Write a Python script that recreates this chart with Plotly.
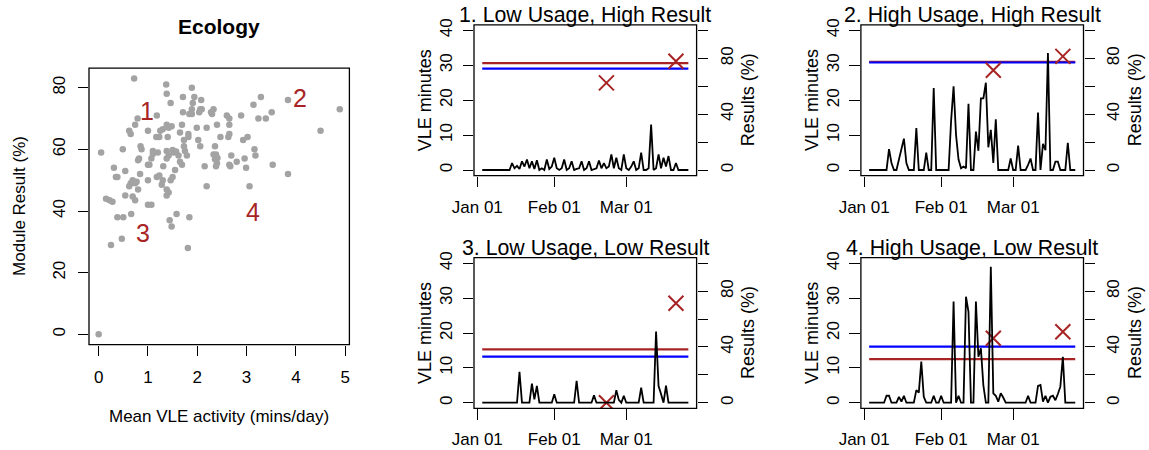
import plotly.graph_objects as go
import pandas as pd

# ---------------- data ----------------
scatter_x = [0, 0.05, 0.72, 0.15, 0.22, 0.28, 0.25, 0.31, 0.35, 0.38, 0.38, 0.49, 0.47, 0.5, 0.54, 0.54,
             0.62, 0.65, 0.66, 0.62, 0.65, 0.69, 0.74, 0.77, 0.69, 0.74, 0.74, 0.79, 0.8, 0.82, 0.84, 0.8,
             0.85, 0.87, 1.0, 1.0, 1.0, 1.0, 1.07, 1.03, 1.07, 1.1, 1.1, 1.18, 1.17, 1.23, 1.25, 1.18,
             1.23, 1.2, 1.3, 1.3, 1.28, 1.31, 1.37, 1.38, 1.38, 1.42, 1.4, 1.38, 1.42, 1.38, 1.38, 1.42,
             1.38, 1.44, 1.46, 1.48, 1.46, 1.5, 1.48, 1.5, 1.52, 1.57, 1.55, 1.58, 1.62, 1.65, 1.65, 1.69,
             1.69, 1.71, 1.71, 1.73, 1.73, 1.75, 1.79, 1.82, 1.82, 1.84, 1.84, 1.81, 1.89, 1.89, 1.89, 1.91,
             1.94, 1.99, 2.02, 2.04, 2.06, 2.08, 2.09, 2.06, 2.15, 2.19, 2.19, 2.28, 2.33, 2.3, 2.36, 2.33,
             2.38, 2.41, 2.36, 2.4, 2.38, 2.4, 2.47, 2.6, 2.65, 2.65, 2.65, 2.63, 2.65, 2.67, 2.69, 2.8,
             2.89, 2.93, 2.96, 2.99, 3.02, 3.06, 3.14, 3.16, 3.18, 3.24, 3.29, 3.39, 3.51, 3.53, 3.84, 3.84,
             4.5, 4.89]
scatter_y = [0, 59, 83, 44, 43.5, 43, 29, 54, 51, 51, 38, 60, 31, 38, 53, 45,
             66, 65, 39, 48, 49, 50, 49, 49.5, 44.7, 43.5, 68, 70, 56.5, 57, 52, 47,
             61, 60, 66, 55, 50, 42, 42, 55, 57, 58.5, 59.5, 71, 64, 64, 66, 51,
             51.5, 59, 66.5, 50, 48.5, 54.5, 81, 78, 68, 67, 64, 59.5, 58, 57, 47, 46,
             45, 37, 75, 67.5, 50, 51, 35, 59.8, 59, 59.3, 53.3, 39, 58, 56, 65.5, 68,
             55, 77, 72, 63, 61, 59.5, 58, 64, 65, 71.5, 38, 28, 80, 71.5, 73, 75,
             77, 67, 63, 72, 73, 76, 73, 61, 54.5, 48, 67, 72, 73, 71.5, 61, 58.3,
             58.3, 57.2, 56.8, 55.5, 54.5, 68, 64, 71, 70, 68, 65, 64, 55, 54.5, 58, 56,
             71, 63, 57, 54, 64, 48, 74.5, 60, 58, 70, 77, 70, 72, 55, 76, 52,
             66, 73]
quadrant_labels = ["1", "2", "3", "4"]
quadrant_label_x = [0.98, 4.09, 0.89, 3.14]
quadrant_label_y = [72.3, 76.7, 32.8, 39.6]

series_start = "2016-01-03"   # daily series, Jan 03 .. Mar 26
vle_p1 = [0, 0, 0, 0, 0, 0, 0, 0, 0, 0, 0, 0,
          2, 0.5, 1.2, 0.3, 2.5, 1, 3, 0.5, 2.5, 0.3, 2.8, 0, 0.5, 0, 3, 0.3, 1, 3.5, 0.5, 0, 0.5, 3,
          0, 0.5, 2.5, 0, 0.3, 0.5, 2.5, 0, 0.5, 2.5, 0, 0.3, 0.5, 2.7, 0.5, 2, 0.5, 1, 4.5, 0.5, 3.5,
          0.5, 0, 4.5, 0.5, 0, 1, 2.5, 0, 0.5, 5, 0, 0, 0.5, 13, 0, 0.5, 4.5, 0.5, 3.5, 1, 4, 0, 0, 2, 0,
          0, 0, 0, 0]
vle_p2 = [0, 0, 0, 0, 0, 0, 0, 0,
          6, 2, 0, 0, 3, 6, 9, 2, 0, 0, 0, 12, 0, 0, 0, 5, 0, 0, 23.5, 0, 0, 0, 0, 0, 0,
          14, 24, 10, 3, 0.5, 1, 0.5, 19, 0, 0, 11, 5.5, 20.5, 20.5, 25, 6.5, 11.5, 2, 14.5, 0,
          0, 0, 0, 0, 3.3, 0, 0, 7, 0, 0, 0, 1.5, 3.3, 0, 0, 16.5, 0, 7.5, 5.7, 33.5, 0, 0, 2.4, 2.4,
          0, 0, 0, 7.8, 0, 0, 0]
vle_p3 = [0, 0, 0, 0, 0, 0, 0, 0, 0, 0, 0, 0, 0, 0, 0,
          8.9, 0, 0, 0, 0, 5.5, 1, 4.8, 0, 0, 0, 0, 0, 0, 2.4, 0, 0, 0, 0, 0, 0, 0, 0, 6.3, 0,
          0, 0, 0, 0, 0, 2.1, 0, 0, 0, 0, 0, 0, 0, 0, 3.6, 0.8, 0, 2, 0, 0, 0, 0, 0, 0, 4.3, 0,
          0, 0, 0, 0, 20.4, 4.8, 2.5, 0, 4.9, 0, 0, 0, 0, 0, 0, 0, 0, 0]
vle_p4 = [0, 0, 0, 0, 0, 0, 0,
          2, 2, 0, 0, 0, 1.7, 0.3, 2, 0, 0, 0, 0, 3.6, 2.9, 11.8, 1.7, 0, 0, 0, 2, 0, 0, 2, 0,
          0, 0, 0, 29, 0, 2, 0, 0, 30.4, 26.1, 0, 0, 29, 13.2, 15.6, 5, 0, 0, 39, 2.7, 2, 0.3,
          2.7, 1.5, 0, 0, 0, 0, 0, 0, 0, 0, 0, 2, 0, 0, 0, 4.8, 5.1, 0.3, 2, 0, 1.7, 2, 0.7, 2.5,
          4.6, 13.2, 0, 0, 0, 0, 0]

panel_titles = ["1. Low Usage, High Result", "2. High Usage, High Result",
                "3. Low Usage, Low Result", "4. High Usage, Low Result"]
result_red = [76.6, 77.5, 38.3, 31.3]     # results (%)
result_blue = [72.6, 77.0, 33.0, 40.2]    # results (%)
mark_dates = ["2016-02-22", "2016-03-21"]
mark_p1 = [62.4, 77.9]
mark_p2 = [71.4, 81.4]
mark_p3 = [0.0, 71.3]
mark_p4 = [46.2, 50.9]

date_tick_vals = ["2016-01-01", "2016-02-01", "2016-03-01"]
date_tick_text = ["Jan 01", "Feb 01", "Mar 01"]
vle_ticks = [0, 10, 20, 30, 40]
res_ticks = [0, 20, 40, 60, 80, 100]
res_tick_text = ["0", "", "40", "", "80", ""]
sc_xticks = [0, 1, 2, 3, 4, 5]
sc_yticks = [0, 20, 40, 60, 80]

# ---------------- layout helpers ----------------
W, H = 1149, 450
FONT = "Liberation Sans, Arial, sans-serif"
RED = "#A82424"
BLUE = "#0000FF"


def fx(p):
    return p / W


def fy(p):
    return 1 - p / H


def r_range(lo, hi):
    d = hi - lo
    return [lo - 0.04 * d, hi + 0.04 * d]


dates = pd.date_range(series_start, periods=len(vle_p1), freq="D")
d0, d1 = dates[0], dates[-1]
span = d1 - d0
date_range = [str(d0 - 0.04 * span), str(d1 + 0.04 * span)]

fig = go.Figure()

# ---- scatter panel ----
SC = dict(l=89.0, r=349.4, t=68.2, b=344.6)
fig.add_trace(go.Scatter(x=scatter_x, y=scatter_y, mode="markers", xaxis="x", yaxis="y",
                         marker=dict(size=6.5, color="#A3A3A3"), showlegend=False, hoverinfo="skip"))

axis_common = dict(showgrid=False, zeroline=False, showline=False, ticks="outside", ticklen=10.5,
                   tickwidth=1.2, tickcolor="black", automargin=False,
                   tickfont=dict(family=FONT, size=17, color="black"))

layout = dict(
    width=W, height=H, margin=dict(l=0, r=0, t=0, b=0, autoexpand=False), paper_bgcolor="white",
    plot_bgcolor="white", showlegend=False, font=dict(family=FONT, color="black"),
    xaxis=dict(domain=[fx(SC["l"]), fx(SC["r"])], anchor="y", range=r_range(min(scatter_x), max(scatter_x)),
               tickvals=sc_xticks, ticklabelstandoff=6, **axis_common),
    yaxis=dict(domain=[fy(SC["b"]), fy(SC["t"])], anchor="x", range=r_range(min(scatter_y), max(scatter_y)),
               tickvals=sc_yticks, tickangle=-90, ticklabelstandoff=6, **axis_common),
)

shapes = [dict(type="rect", xref="x domain", yref="y domain", x0=0, x1=1, y0=0, y1=1,
               line=dict(color="black", width=1.3), layer="above")]

annotations = [
    dict(text="<b>Ecology</b>", x=fx(219.3), y=fy(26.5), xref="paper", yref="paper", showarrow=False,
         font=dict(family=FONT, size=21, color="black"), xanchor="center", yanchor="middle"),
    dict(text="Mean VLE activity (mins/day)", x=fx(219.2), y=fy(416.5), xref="paper", yref="paper",
         showarrow=False, font=dict(family=FONT, size=17, color="black"), xanchor="center", yanchor="middle"),
    dict(text="Module Result (%)", x=fx(19.5), y=fy((SC["t"] + SC["b"]) / 2), xref="paper", yref="paper",
         showarrow=False, textangle=-90, font=dict(family=FONT, size=17, color="black"),
         xanchor="center", yanchor="middle"),
]
for lab, lx, ly in zip(quadrant_labels, quadrant_label_x, quadrant_label_y):
    annotations.append(dict(text=lab, x=lx, y=ly, xref="x", yref="y", showarrow=False,
                            font=dict(family=FONT, size=25, color=RED), xanchor="center", yanchor="middle"))

# ---- four time-series panels ----
panel_boxes = [
    dict(l=474.0, r=696.6, t=24.8, b=175.6),
    dict(l=860.9, r=1083.5, t=24.8, b=175.6),
    dict(l=474.0, r=696.6, t=257.7, b=408.3),
    dict(l=860.9, r=1083.5, t=257.7, b=408.3),
]
vle_all = [vle_p1, vle_p2, vle_p3, vle_p4]
marks_all = [mark_p1, mark_p2, mark_p3, mark_p4]

for k in range(4):
    box = panel_boxes[k]
    xa = "x%d" % (k + 2)
    ya_res = "y%d" % (2 * k + 2)
    ya_vle = "y%d" % (2 * k + 3)
    xk, yr, yv = "xaxis%d" % (k + 2), "yaxis%d" % (2 * k + 2), "yaxis%d" % (2 * k + 3)

    layout[xk] = dict(domain=[fx(box["l"]), fx(box["r"])], anchor=ya_res, type="date", range=date_range,
                      tickvals=date_tick_vals, ticktext=date_tick_text, ticklabelstandoff=5, **axis_common)
    layout[yr] = dict(domain=[fy(box["b"]), fy(box["t"])], anchor=xa, side="right", range=r_range(0, 100),
                      tickvals=res_ticks, ticktext=res_tick_text, tickangle=-90, ticklabelstandoff=4,
                      **axis_common)
    layout[yv] = dict(anchor=xa, overlaying=ya_res, side="left", range=r_range(0, 40),
                      tickvals=vle_ticks, tickangle=-90, ticklabelstandoff=4, **axis_common)

    # result reference lines and markers (right axis)
    fig.add_trace(go.Scatter(x=[dates[0], dates[-1]], y=[result_red[k]] * 2, mode="lines",
                             xaxis=xa, yaxis=ya_res, line=dict(color=RED, width=2.2), hoverinfo="skip"))
    fig.add_trace(go.Scatter(x=[dates[0], dates[-1]], y=[result_blue[k]] * 2, mode="lines",
                             xaxis=xa, yaxis=ya_res, line=dict(color=BLUE, width=2.2), hoverinfo="skip"))
    fig.add_trace(go.Scatter(x=mark_dates, y=marks_all[k], mode="markers", xaxis=xa, yaxis=ya_res,
                             marker=dict(symbol="x-thin", size=15, line=dict(color=RED, width=2)),
                             hoverinfo="skip"))
    # daily VLE minutes (left axis)
    fig.add_trace(go.Scatter(x=dates, y=vle_all[k], mode="lines", xaxis=xa, yaxis=ya_vle,
                             line=dict(color="black", width=1.8), hoverinfo="skip"))

    shapes.append(dict(type="rect", xref=xa + " domain", yref=ya_res + " domain", x0=0, x1=1, y0=0, y1=1,
                       line=dict(color="black", width=1.3), layer="above"))
    cx = (box["l"] + box["r"]) / 2
    cy = (box["t"] + box["b"]) / 2
    annotations.append(dict(text=panel_titles[k], x=fx(cx), y=fy(box["t"] - 10.0), xref="paper", yref="paper",
                            showarrow=False, font=dict(family=FONT, size=21.3, color="black"),
                            xanchor="center", yanchor="middle"))
    annotations.append(dict(text="VLE minutes", x=fx(box["l"] - 49), y=fy(cy), xref="paper", yref="paper",
                            showarrow=False, textangle=-90, font=dict(family=FONT, size=18, color="black"),
                            xanchor="center", yanchor="middle"))
    annotations.append(dict(text="Results (%)", x=fx(box["r"] + 51.5), y=fy(cy), xref="paper", yref="paper",
                            showarrow=False, textangle=-90, font=dict(family=FONT, size=18, color="black"),
                            xanchor="center", yanchor="middle"))

layout["shapes"] = shapes
layout["annotations"] = annotations
fig.update_layout(**layout)
fig.write_html("out.html")
